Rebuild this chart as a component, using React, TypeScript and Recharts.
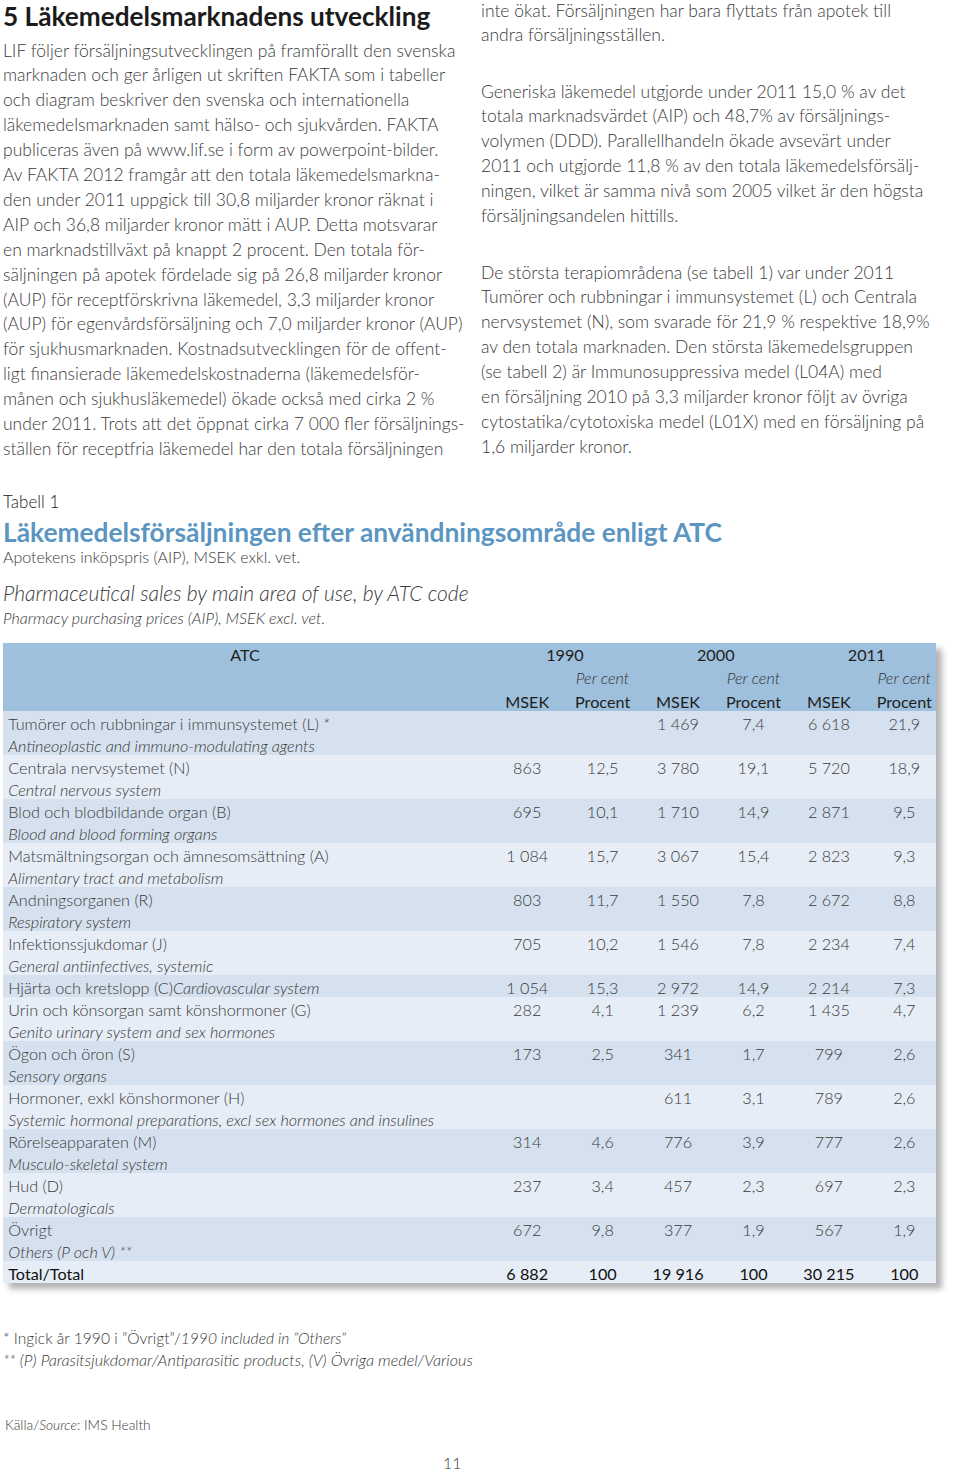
import React from "react"
import { ComposedChart, XAxis, YAxis, Scatter, ReferenceArea } from "recharts"

const FONT = "Lato, 'Open Sans', sans-serif"
const TEXT = "#3a3a3a"

// page text
const HEADING = "5 Läkemedelsmarknadens utveckling"
const LEFT_LINES = [
  "LIF följer försäljningsutvecklingen på framförallt den svenska",
  "marknaden och ger årligen ut skriften FAKTA som i tabeller",
  "och diagram beskriver den svenska och internationella",
  "läkemedelsmarknaden samt hälso- och sjukvården. FAKTA",
  "publiceras även på www.lif.se i form av powerpoint-bilder.",
  "Av FAKTA 2012 framgår att den totala läkemedelsmarkna-",
  "den under 2011 uppgick till 30,8 miljarder kronor räknat i",
  "AIP och 36,8 miljarder kronor mätt i AUP. Detta motsvarar",
  "en marknadstillväxt på knappt 2 procent. Den totala för-",
  "säljningen på apotek fördelade sig på 26,8 miljarder kronor",
  "(AUP) för receptförskrivna läkemedel, 3,3 miljarder kronor",
  "(AUP) för egenvårdsförsäljning och 7,0 miljarder kronor (AUP)",
  "för sjukhusmarknaden. Kostnadsutvecklingen för de offent-",
  "ligt finansierade läkemedelskostnaderna (läkemedelsför-",
  "månen och sjukhusläkemedel) ökade också med cirka 2 %",
  "under 2011.  Trots att det öppnat cirka 7 000 fler försäljnings-",
  "ställen för receptfria läkemedel har den totala försäljningen",
]
const RIGHT_P1 = [
  "inte ökat. Försäljningen har bara flyttats från apotek till",
  "andra försäljningsställen.",
]
const RIGHT_P2 = [
  "Generiska läkemedel utgjorde under 2011 15,0 % av det",
  "totala marknadsvärdet (AIP) och 48,7% av försäljnings-",
  "volymen (DDD). Parallellhandeln ökade avsevärt under",
  "2011 och utgjorde 11,8 % av den totala läkemedelsförsälj-",
  "ningen, vilket är samma nivå som 2005 vilket är den högsta",
  "försäljningsandelen hittills.",
]
const RIGHT_P3 = [
  "De största terapiområdena (se tabell 1) var under 2011",
  "Tumörer och rubbningar i immunsystemet (L) och Centrala",
  "nervsystemet (N), som svarade för 21,9 % respektive 18,9%",
  "av den totala marknaden. Den största läkemedelsgruppen",
  "(se tabell 2) är Immunosuppressiva medel (L04A) med",
  "en försäljning 2010 på 3,3 miljarder kronor följt av övriga",
  "cytostatika/cytotoxiska medel (L01X) med en försäljning på",
  "1,6 miljarder kronor.",
]

// table data
const ATC_SV = [
  "Tumörer och rubbningar i immunsystemet (L) *",
  "Centrala nervsystemet (N)",
  "Blod och blodbildande organ (B)",
  "Matsmältningsorgan och ämnesomsättning (A)",
  "Andningsorganen (R)",
  "Infektionssjukdomar (J)",
  "Hjärta och kretslopp (C)",
  "Urin och könsorgan samt könshormoner (G)",
  "Ögon och öron (S)",
  "Hormoner, exkl könshormoner (H)",
  "Rörelseapparaten (M)",
  "Hud (D)",
  "Övrigt",
  "Total/Total",
]
const ATC_EN = [
  "Antineoplastic and immuno-modulating agents",
  "Central nervous system",
  "Blood and blood forming organs",
  "Alimentary tract and metabolism",
  "Respiratory system",
  "General antiinfectives, systemic",
  "Cardiovascular system",
  "Genito urinary system and sex hormones",
  "Sensory organs",
  "Systemic hormonal preparations, excl sex hormones and insulines",
  "Musculo-skeletal system",
  "Dermatologicals",
  "Others (P och V) **",
  "",
]
const EN_INLINE = [false, false, false, false, false, false, true, false, false, false, false, false, false, false]
const MSEK_1990 = [null, 863, 695, 1084, 803, 705, 1054, 282, 173, null, 314, 237, 672, 6882]
const PCT_1990 = [null, 12.5, 10.1, 15.7, 11.7, 10.2, 15.3, 4.1, 2.5, null, 4.6, 3.4, 9.8, 100]
const MSEK_2000 = [1469, 3780, 1710, 3067, 1550, 1546, 2972, 1239, 341, 611, 776, 457, 377, 19916]
const PCT_2000 = [7.4, 19.1, 14.9, 15.4, 7.8, 7.8, 14.9, 6.2, 1.7, 3.1, 3.9, 2.3, 1.9, 100]
const MSEK_2011 = [6618, 5720, 2871, 2823, 2672, 2234, 2214, 1435, 799, 789, 777, 697, 567, 30215]
const PCT_2011 = [21.9, 18.9, 9.5, 9.3, 8.8, 7.4, 7.3, 4.7, 2.6, 2.6, 2.6, 2.3, 1.9, 100]
const YEARS = ["1990", "2000", "2011"]
const COLUMNS = [MSEK_1990, PCT_1990, MSEK_2000, PCT_2000, MSEK_2011, PCT_2011]

// layout of the table (column units / line units)
const X_DOMAIN: [number, number] = [-6.95, 5.42]
const LABEL_X = -6.88
const ATC_X = -3.74
const Y_DOMAIN: [number, number] = [-3.09, 26]
const STRIPE_DARK = "#d5e1ee"
const STRIPE_LIGHT = "#e6edf6"
const HEAD_BG = "#9fc0dc"

const fmtMsek = (v: number) => String(v).replace(/\B(?=(\d{3})+(?!\d))/g, " ")
const fmtPct = (v: number) => (v === 100 ? "100" : v.toFixed(1).replace(".", ","))

const rowLines = ATC_SV.map((_, i) => (ATC_EN[i] && !EN_INLINE[i] ? 2 : 1))
const rowStart = rowLines.map((_, i) => rowLines.slice(0, i).reduce((a, b) => a + b, 0))
const last = ATC_SV.length - 1

const labelPts = ATC_SV.flatMap((sv, i) => {
  const pts: any[] = [{ x: LABEL_X, y: rowStart[i] + 0.55, text: sv, en: EN_INLINE[i] ? ATC_EN[i] : "", kind: i === last ? "total" : "sv" }]
  if (rowLines[i] === 2) pts.push({ x: LABEL_X, y: rowStart[i] + 1.55, text: ATC_EN[i], kind: "en" })
  return pts
})
const valuePts = COLUMNS.flatMap((col, c) =>
  col.flatMap((v, i) =>
    v == null ? [] : [{ x: c, y: rowStart[i] + 0.55, text: c % 2 === 0 ? fmtMsek(v) : fmtPct(v), kind: i === last ? "totalNum" : "num" }]
  )
)
const headPts = [
  { x: ATC_X, y: -2.55, text: "ATC", kind: "head" },
  ...YEARS.flatMap((yr, k) => [
    { x: 2 * k + 0.5, y: -2.55, text: yr, kind: "head" },
    { x: 2 * k + 1, y: -1.5, text: "Per cent", kind: "headIt" },
    { x: 2 * k, y: -0.45, text: "MSEK", kind: "head" },
    { x: 2 * k + 1, y: -0.45, text: "Procent", kind: "head" },
  ]),
]

function CellText(props: any) {
  const { cx, cy, payload } = props
  const p = payload
  const base = { y: cy, dominantBaseline: "central" as const, fontFamily: FONT, fontSize: 16.2 }
  if (p.kind === "sv" || p.kind === "en" || p.kind === "total") {
    return (
      <text
        {...base}
        x={cx}
        textAnchor="start"
        fill={p.kind === "total" ? "#111" : TEXT}
        fontWeight={p.kind === "total" ? 400 : 300}
        fontStyle={p.kind === "en" ? "italic" : "normal"}
      >
        {p.text}
        {p.en ? <tspan fontStyle="italic">{p.en}</tspan> : null}
      </text>
    )
  }
  if (p.kind === "num" || p.kind === "totalNum") {
    const tot = p.kind === "totalNum"
    return (
      <text {...base} x={cx} textAnchor="middle" fill={tot ? "#111" : TEXT} fontWeight={tot ? 400 : 300}>
        {p.text}
      </text>
    )
  }
  return (
    <text
      {...base}
      x={cx}
      textAnchor="middle"
      fill={p.kind === "headIt" ? "#333" : "#1e1e1e"}
      fontWeight={p.kind === "headIt" ? 300 : 400}
      fontStyle={p.kind === "headIt" ? "italic" : "normal"}
    >
      {p.text}
    </text>
  )
}

const LINE_H = 24.9

function Line({ top, left, size = 17.5, lh = LINE_H, children, style }: any) {
  return (
    <div
      style={{
        position: "absolute",
        left,
        top: top - lh / 2,
        lineHeight: `${lh}px`,
        fontSize: size,
        whiteSpace: "nowrap",
        ...style,
      }}
    >
      {children}
    </div>
  )
}

export default function App() {
  return (
    <div
      style={{
        position: "absolute",
        left: 0,
        top: 0,
        width: 960,
        height: 1472,
        background: "#fff",
        fontFamily: FONT,
        fontWeight: 300,
        color: TEXT,
        overflow: "hidden",
      }}
    >
      <Line top={16} lh={32} left={3} size={26.2} style={{ fontWeight: 700, color: "#1b1b1b" }}>{HEADING}</Line>
      {LEFT_LINES.map((t, i) => (
        <Line key={i} top={51 + i * LINE_H} left={3}>{t}</Line>
      ))}
      {RIGHT_P1.map((t, i) => (
        <Line key={"a" + i} top={11 + i * LINE_H} left={481}>{t}</Line>
      ))}
      {RIGHT_P2.map((t, i) => (
        <Line key={"b" + i} top={92 + i * LINE_H} left={481}>{t}</Line>
      ))}
      {RIGHT_P3.map((t, i) => (
        <Line key={"c" + i} top={273 + i * LINE_H} left={481}>{t}</Line>
      ))}

      <Line top={502} left={3} size={17} style={{ color: "#222" }}>Tabell 1</Line>
      <Line top={532} left={3} size={26.3} style={{ fontWeight: 700, color: "#5b96c2" }}>
        Läkemedelsförsäljningen efter användningsområde enligt ATC
      </Line>
      <Line top={557} left={3} size={16}>Apotekens inköpspris (AIP), MSEK exkl. vet.</Line>
      <Line top={593} left={3} size={21} style={{ fontStyle: "italic" }}>
        Pharmaceutical sales by main area of use, by ATC code
      </Line>
      <Line top={618} left={3} size={16} style={{ fontStyle: "italic" }}>
        Pharmacy purchasing prices (AIP), MSEK excl. vet.
      </Line>

      <div
        style={{
          position: "absolute",
          left: 3,
          top: 643,
          width: 933,
          height: 640,
          boxShadow: "6px 6px 6px rgba(0,0,0,0.3)",
        }}
      >
        <ComposedChart width={933} height={640} margin={{ top: 0, right: 0, bottom: 0, left: 0 }}>
          <XAxis type="number" dataKey="x" domain={X_DOMAIN} allowDataOverflow hide />
          <YAxis type="number" dataKey="y" domain={Y_DOMAIN} allowDataOverflow reversed hide />
          <ReferenceArea y1={Y_DOMAIN[0]} y2={0} fill={HEAD_BG} fillOpacity={1} stroke="none" />
          {ATC_SV.map((_, i) => (
            <ReferenceArea
              key={i}
              y1={rowStart[i]}
              y2={rowStart[i] + rowLines[i]}
              fill={i % 2 === 0 ? STRIPE_DARK : STRIPE_LIGHT}
              fillOpacity={1}
              stroke="none"
            />
          ))}
          <Scatter data={headPts} shape={CellText} isAnimationActive={false} />
          <Scatter data={labelPts} shape={CellText} isAnimationActive={false} />
          <Scatter data={valuePts} shape={CellText} isAnimationActive={false} />
        </ComposedChart>
      </div>

      <Line top={1338} left={3} size={15.6}>
        * Ingick år 1990 i ”Övrigt”/<i>1990 included in ”Others”</i>
      </Line>
      <Line top={1360} left={3} size={16.2} style={{ fontStyle: "italic" }}>
        ** (P) Parasitsjukdomar/Antiparasitic products, (V) Övriga medel/Various
      </Line>
      <Line top={1425} left={5} size={13.8}>
        Källa/<i>Source</i>: IMS Health
      </Line>
      <Line top={1463} left={443} size={16}>11</Line>
    </div>
  )
}
